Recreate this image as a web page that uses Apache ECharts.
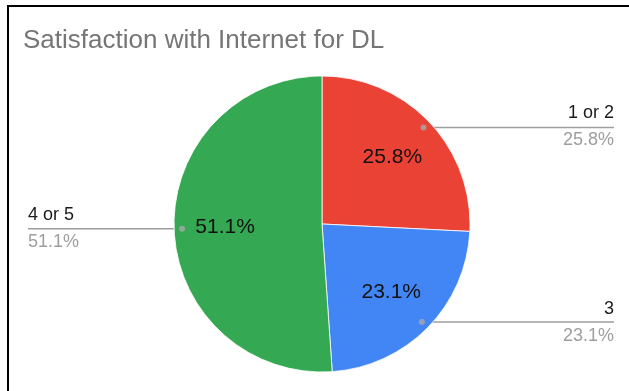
<!DOCTYPE html>
<html>
<head>
<meta charset="utf-8">
<script src="https://cdn.jsdelivr.net/npm/echarts@6/dist/echarts.min.js"></script>
<style>
  html, body { margin: 0; padding: 0; background: #fff; overflow: hidden; }
  #chart { position: absolute; left: 0; top: 0; width: 629px; height: 391px; }
  #frame { position: absolute; left: 7px; top: 5px; width: 620px; height: 384px;
           border-left: 2px solid #000; border-top: 2px solid #000; pointer-events: none; }
</style>
</head>
<body>
<div id="chart"></div>
<div id="frame"></div>
<script>
// Data
const titleText = 'Satisfaction with Internet for DL';
const categories = ['1 or 2', '3', '4 or 5'];
const percentages = [25.8, 23.1, 51.1];

// Styling
const sliceColors = ['#EA4335', '#4285F4', '#34A853'];
const FONT = '"Liberation Sans", Arial, sans-serif';
const CX = 322, CY = 224, R = 148;   // pie centre and radius (px)
const DOT_R = 140;                   // radius where leader lines start
const SIDE_INSET = 13;

const total = percentages.reduce((a, b) => a + b, 0);
const fmtPct = v => (v / total * 100).toFixed(1) + '%';

const pieData = categories.map((name, i) => ({
  name: name,
  value: percentages[i],
  itemStyle: { color: sliceColors[i] }
}));
const ghostData = categories.map((name, i) => ({
  name: name,
  value: percentages[i],
  itemStyle: { color: 'rgba(0,0,0,0)', borderWidth: 0 }
}));

// Mid-angle of each slice, used for the leader-line dots
let acc = 0;
const dotData = percentages.map(v => {
  const mid = acc + v / 2;
  acc += v;
  return [DOT_R, mid];
});

const chart = echarts.init(document.getElementById('chart'), null, { renderer: 'canvas' });

chart.setOption({
  animation: false,
  backgroundColor: '#fff',
  title: {
    text: titleText,
    left: 18,
    top: 23,
    textStyle: { fontFamily: FONT, fontSize: 26, fontWeight: 'normal', color: '#757575' }
  },
  polar: { center: [CX, CY], radius: R },
  angleAxis: { type: 'value', min: 0, max: total, startAngle: 90, clockwise: true, show: false },
  radiusAxis: { type: 'value', min: 0, max: R, show: false },
  series: [
    {
      // the visible slices
      type: 'pie',
      center: [CX, CY],
      radius: [0, R],
      startAngle: 90,
      clockwise: true,
      silent: true,
      data: pieData,
      itemStyle: { borderColor: '#fff', borderWidth: 0.8 },
      label: { show: false },
      labelLine: { show: false }
    },
    {
      // percentage labels inside the slices
      type: 'pie',
      center: [CX, CY],
      radius: [40, R],
      startAngle: 90,
      clockwise: true,
      silent: true,
      data: ghostData,
      label: {
        show: true,
        position: 'inside',
        formatter: p => fmtPct(p.value),
        fontFamily: FONT,
        fontSize: 21,
        color: '#111'
      },
      labelLine: { show: false }
    },
    {
      // category labels at the edges with leader lines
      type: 'pie',
      left: SIDE_INSET,
      center: [CX - SIDE_INSET, CY],
      radius: [0, DOT_R],
      startAngle: 90,
      clockwise: true,
      silent: true,
      data: ghostData,
      label: {
        show: true,
        position: 'outside',
        alignTo: 'edge',
        edgeDistance: 15,
        formatter: p => '{name|' + p.name + '}\n{val|' + fmtPct(p.value) + '}',
        rich: {
          name: { fontFamily: FONT, fontSize: 18, color: '#1a1a1a', lineHeight: 27 },
          val: { fontFamily: FONT, fontSize: 18, color: '#9e9e9e', lineHeight: 27 }
        }
      },
      labelLine: {
        show: true,
        length: 1,
        length2: 10,
        lineStyle: { color: '#9e9e9e', width: 1.5 }
      },
      labelLayout: function (params) {
        const pts = params.labelLinePoints;
        if (!pts) return;
        const r = params.labelRect;
        const isLeft = r.x + r.width / 2 < chart.getWidth() / 2;
        const y = pts[0][1];
        return {
          labelLinePoints: [
            [pts[0][0], y],
            [pts[0][0], y],
            [isLeft ? r.x : r.x + r.width, y]
          ]
        };
      }
    },
    {
      // small dots where the leader lines meet the slices
      type: 'scatter',
      coordinateSystem: 'polar',
      silent: true,
      symbolSize: 6,
      itemStyle: { color: '#a8a8a8' },
      data: dotData,
      z: 5
    }
  ]
});
</script>
</body>
</html>
